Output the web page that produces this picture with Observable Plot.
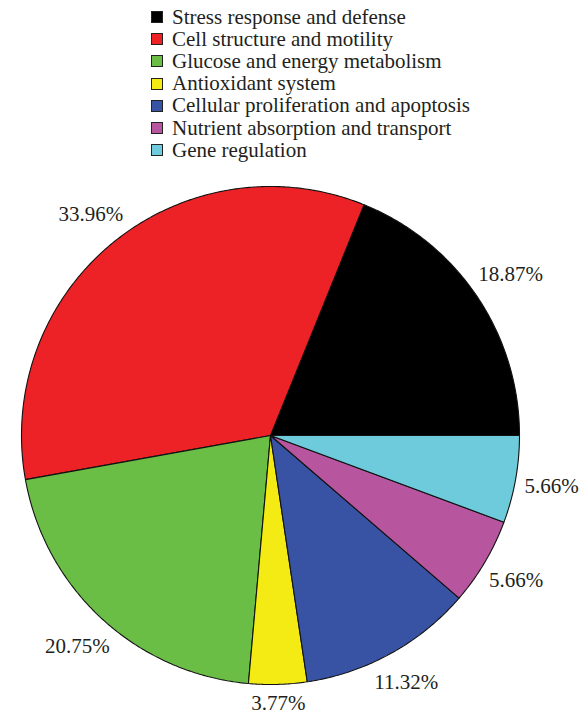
<!DOCTYPE html>
<html>
<head>
<meta charset="utf-8">
<script src="https://cdn.jsdelivr.net/npm/d3@7"></script>
<script src="https://cdn.jsdelivr.net/npm/@observablehq/plot@0.6"></script>
<style>
  html, body { margin: 0; padding: 0; background: #fff; }
  body { width: 581px; height: 714px; overflow: hidden; font-family: "Liberation Serif", "Times New Roman", serif; color: #231f20; }
  #legend { position: relative; height: 170px; }
  .item { position: absolute; left: 151px; height: 22px; display: flex; align-items: center; font-size: 21px; white-space: nowrap; }
  .sw { width: 12px; height: 12px; box-sizing: border-box; border: 1px solid #222; margin-right: 9px; }
  #chart svg, #chart svg text { font-family: "Liberation Serif", "Times New Roman", serif !important; }
</style>
</head>
<body>
<div id="legend"></div>
<div id="chart"></div>
<script>
// Functional categories and their share of the proteins (%)
const categories = [
  "Stress response and defense",
  "Cell structure and motility",
  "Glucose and energy metabolism",
  "Antioxidant system",
  "Cellular proliferation and apoptosis",
  "Nutrient absorption and transport",
  "Gene regulation"
];
const shares = [18.87, 33.96, 20.75, 3.77, 11.32, 5.66, 5.66];
const palette = ["#000000", "#ec2227", "#6abd45", "#f5eb14", "#3853a4", "#b7559f", "#6dcbdc"];

// Layout of the pie in pixels
const W = 581, H = 544;
const R = 249;               // pie radius
const cx = 270, cy = 265;    // pie centre inside the svg

const colorScale = Plot.scale({color: {type: "ordinal", domain: categories, range: palette}});

// Legend: one swatch per category, stacked vertically
const legend = d3.select("#legend");
categories.forEach((c, i) => {
  const row = legend.append("div").attr("class", "item").style("top", `${6 + i * 22.2}px`);
  row.append("div").attr("class", "sw").style("background", colorScale.apply(c));
  row.append("span").text(c);
});

// Slices run counter-clockwise from 3 o'clock
const total = d3.sum(shares);
const slicePts = [];
const labels = [];
let acc = 0;
shares.forEach((v, i) => {
  const a0 = acc / total * 2 * Math.PI;
  acc += v;
  const a1 = acc / total * 2 * Math.PI;
  const cat = categories[i];
  const n = Math.max(2, Math.ceil((a1 - a0) / (Math.PI / 360)));
  slicePts.push({cat, x: 0, y: 0});
  for (let k = 0; k <= n; ++k) {
    const a = a0 + (a1 - a0) * k / n;
    slicePts.push({cat, x: Math.cos(a), y: Math.sin(a)});
  }
  slicePts.push({cat, x: 0, y: 0});

  // percentage label just outside the rim at the slice's mid angle
  const am = (a0 + a1) / 2;
  const text = `${v.toFixed(2)}%`;
  const halfW = text.length * 5.3, halfH = 9, gap = 9;
  const off = (gap + Math.abs(Math.cos(am)) * halfW + Math.abs(Math.sin(am)) * halfH) / R;
  labels.push({text, x: Math.cos(am) * (1 + off), y: Math.sin(am) * (1 + off)});
});

const chart = Plot.plot({
  width: W,
  height: H,
  marginLeft: cx - R,
  marginRight: W - cx - R,
  marginTop: cy - R,
  marginBottom: H - cy - R,
  x: {domain: [-1, 1], axis: null},
  y: {domain: [-1, 1], axis: null},
  color: {type: "ordinal", domain: categories, range: palette},
  style: {background: "#fff", overflow: "visible", fontFamily: "Liberation Serif"},
  marks: [
    Plot.line(slicePts, {x: "x", y: "y", z: "cat", fill: "cat", stroke: "#111", strokeWidth: 1.1, strokeLinejoin: "miter"}),
    Plot.text(labels, {x: "x", y: "y", text: "text", fontSize: 21, fontFamily: "Liberation Serif", fill: "#231f20"})
  ]
});
document.getElementById("chart").appendChild(chart);
</script>
</body>
</html>
